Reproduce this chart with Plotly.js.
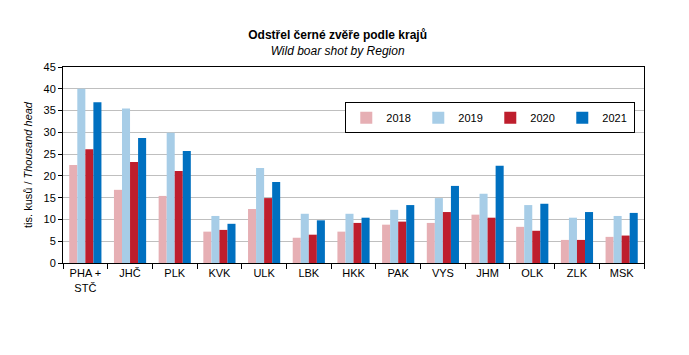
<!DOCTYPE html>
<html>
<head>
<meta charset="utf-8">
<script src="https://cdn.plot.ly/plotly-3.0.1.min.js"></script>
<style>html,body{margin:0;padding:0;background:#fff;}#chart{width:689px;height:355px;}</style>
</head>
<body>
<div id="chart"></div>
<script>
const regions = ['PHA +<br>STČ','JHČ','PLK','KVK','ULK','LBK','HKK','PAK','VYS','JHM','OLK','ZLK','MSK'];
const years = ['2018','2019','2020','2021'];
const v2018 = [22.5,16.8,15.4,7.2,12.4,5.8,7.2,8.8,9.2,11.1,8.3,5.3,6.0];
const v2019 = [40.0,35.5,29.9,10.8,21.8,11.3,11.3,12.2,14.9,15.9,13.3,10.4,10.8];
const v2020 = [26.1,23.2,21.1,7.6,14.9,6.5,9.2,9.5,11.7,10.4,7.4,5.3,6.3];
const v2021 = [36.9,28.7,25.7,9.0,18.6,9.8,10.4,13.3,17.7,22.3,13.6,11.7,11.5];
const colors = ['#E6AFB4','#A7CDE7','#BE1E2D','#0070C0'];
const series = [v2018,v2019,v2020,v2021];

const traces = series.map((vals,i)=>({
  type:'bar', name: years[i], x: regions, y: vals,
  marker:{color: colors[i], line:{width:0}},
  hoverinfo:'y'
}));

const layout = {
  width:689, height:355,
  margin:{l:63, r:45, t:67, b:92, autoexpand:false},
  paper_bgcolor:'#fff', plot_bgcolor:'#fff',
  font:{family:'Liberation Sans, Arial, sans-serif', size:11, color:'#000'},
  title:{
    text:'<b>Odstřel černé zvěře podle krajů</b><br><i>Wild boar shot by Region</i>',
    font:{family:'Liberation Sans, Arial, sans-serif', size:12, color:'#000'},
    xref:'container', x:0.49, xanchor:'center',
    yref:'container', y:0.89, yanchor:'top'
  },
  barmode:'group', bargap:0.28, bargroupgap:0,
  xaxis:{
    type:'category', showline:true, linecolor:'#000', linewidth:1, mirror:true,
    ticks:'outside', tickson:'boundaries', ticklen:5, tickcolor:'#000',
    showgrid:false, tickfont:{size:11}, tickangle:0, automargin:false
  },
  yaxis:{
    range:[0,45], dtick:5, tick0:0, showline:true, linecolor:'#000', linewidth:1, mirror:true,
    ticks:'outside', ticklen:4, tickcolor:'#000',
    showgrid:true, gridcolor:'#BFBFBF', gridwidth:1, zeroline:false,
    tickfont:{size:11}, automargin:false,
    title:{text:'tis. kusů / <i>Thousand head</i>', font:{size:11}, standoff:8}
  },
  legend:{
    orientation:'h', x:0.985, xanchor:'right', y:0.82, yanchor:'top',
    bordercolor:'#000', borderwidth:1, bgcolor:'#fff',
    font:{size:11}, traceorder:'normal', itemwidth:30,
    entrywidth:27, entrywidthmode:'pixels'
  },
  showlegend:true
};
Plotly.newPlot('chart', traces, layout, {displayModeBar:false, staticPlot:true});
</script>
</body>
</html>
